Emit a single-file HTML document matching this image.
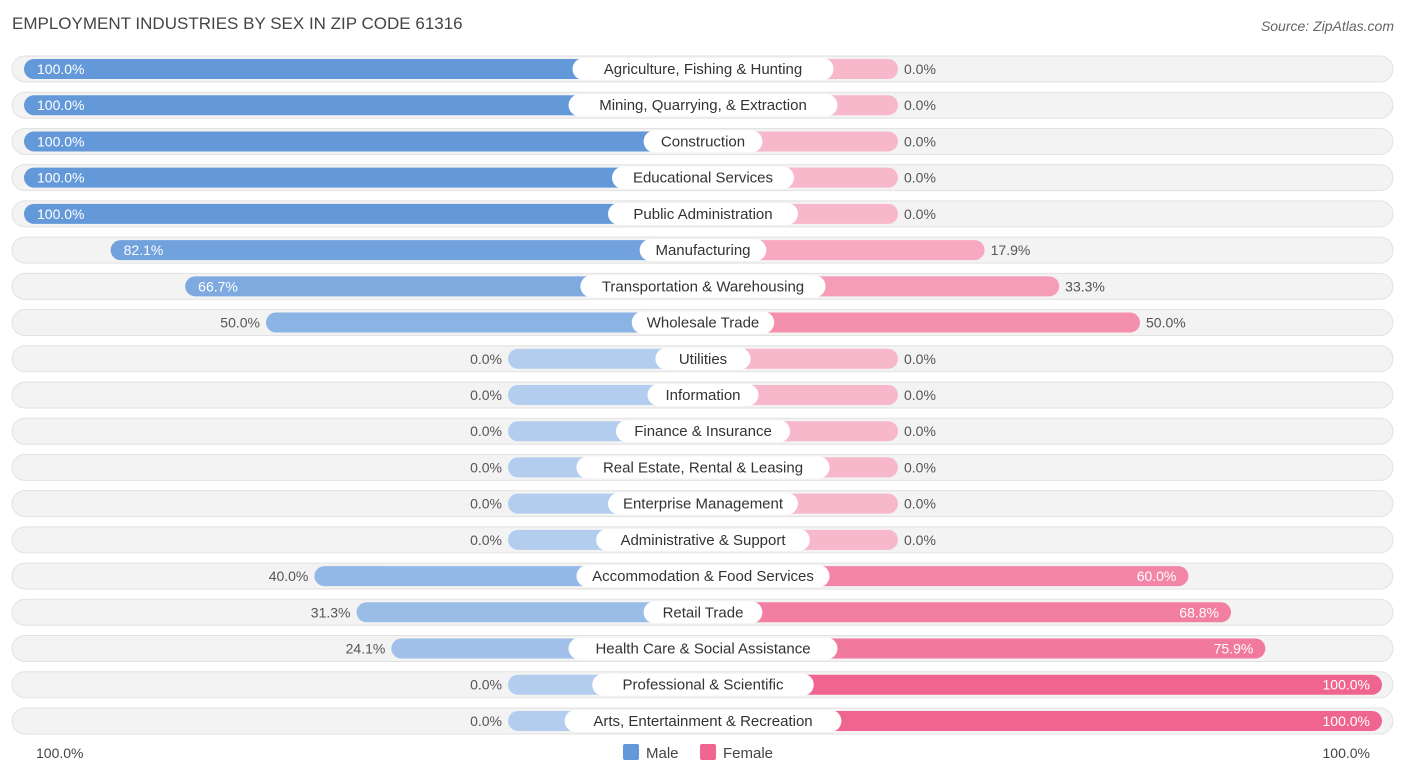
<!DOCTYPE html>
<html><head><meta charset="utf-8"><style>
body{margin:0;background:#fff;font-family:"Liberation Sans",sans-serif;}
svg text{font-family:"Liberation Sans",sans-serif;}
</style></head><body>
<svg id="chart" width="1406" height="777">
<text x="12" y="29" font-size="17" fill="#444">EMPLOYMENT INDUSTRIES BY SEX IN ZIP CODE 61316</text>
<text x="1394" y="31" font-size="14" fill="#666" font-style="italic" text-anchor="end">Source: ZipAtlas.com</text>
<g id="rows"></g>
<text x="36" y="758" font-size="14" fill="#444">100.0%</text>
<text x="1370" y="758" font-size="14" fill="#444" text-anchor="end">100.0%</text>
<rect x="623" y="744" width="16" height="16" rx="2" fill="#6399d9"/>
<text x="646" y="758" font-size="15" fill="#444">Male</text>
<rect x="700" y="744" width="16" height="16" rx="2" fill="#f06590"/>
<text x="723" y="758" font-size="15" fill="#444">Female</text>
</svg>
<script>
const categories=["Agriculture, Fishing & Hunting","Mining, Quarrying, & Extraction","Construction","Educational Services","Public Administration","Manufacturing","Transportation & Warehousing","Wholesale Trade","Utilities","Information","Finance & Insurance","Real Estate, Rental & Leasing","Enterprise Management","Administrative & Support","Accommodation & Food Services","Retail Trade","Health Care & Social Assistance","Professional & Scientific","Arts, Entertainment & Recreation"];
const maleValues=[100,100,100,100,100,82.1,66.7,50,0,0,0,0,0,0,40,31.3,24.1,0,0];
const femaleValues=[0,0,0,0,0,17.9,33.3,50,0,0,0,0,0,0,60,68.8,75.9,100,100];
const NS="http://www.w3.org/2000/svg";
const g=document.getElementById('rows');
const cx=703, base=195, scale=4.84, y0=69, step=36.22;
function mix(a,b,t){const p=s=>[1,3,5].map(i=>parseInt(s.substr(i,2),16));const A=p(a),B=p(b);return 'rgb('+A.map((v,i)=>Math.round(v+(B[i]-v)*t)).join(',')+')';}
function mk(tag,attrs){const e=document.createElementNS(NS,tag);for(const k in attrs)e.setAttribute(k,attrs[k]);return e;}
categories.forEach((c,i)=>{
  const y=y0+i*step;
  const bg=mk('rect',{x:12,y:y-13,width:1381,height:26,rx:13,fill:'#f3f3f3',stroke:'#e2e2e2'});
  
  
  g.appendChild(bg);
  const m=maleValues[i],f=femaleValues[i];
  const mw=base+m*scale, fw=base+f*scale;
  const mb=mk('rect',{x:cx-mw,y:y-10,width:mw,height:20,rx:10,fill:mix('#b3cdee','#6399d9',m/100)});
  
  
  g.appendChild(mb);
  const fb=mk('rect',{x:cx,y:y-10,width:fw,height:20,rx:10,fill:mix('#f7b8cb','#f06590',f/100)});
  
  
  g.appendChild(fb);
  const lw=c.length*7.9+24;
  const lb=mk('rect',{x:cx-lw/2,y:y-11,width:lw,height:22,rx:11,fill:'#fff'});
  
  
  g.appendChild(lb);
  const lt=mk('text',{x:cx,y:y+5,'font-size':15,fill:'#333','text-anchor':'middle'});
  lt.textContent=c;
  
  
  g.appendChild(lt);
  const mIn=m>60;
  const mt=mk('text',{x:mIn?cx-mw+13:cx-mw-6,y:y+5,'font-size':14,fill:mIn?'#fff':'#555','text-anchor':mIn?'start':'end'});
  mt.textContent=m.toFixed(1)+'%';
  
  
  g.appendChild(mt);
  const fIn=f>55;
  const ft=mk('text',{x:fIn?cx+fw-12:cx+fw+6,y:y+5,'font-size':14,fill:fIn?'#fff':'#555','text-anchor':fIn?'end':'start'});
  ft.textContent=f.toFixed(1)+'%';
  
  
  g.appendChild(ft);
});
</script>
</body></html>
